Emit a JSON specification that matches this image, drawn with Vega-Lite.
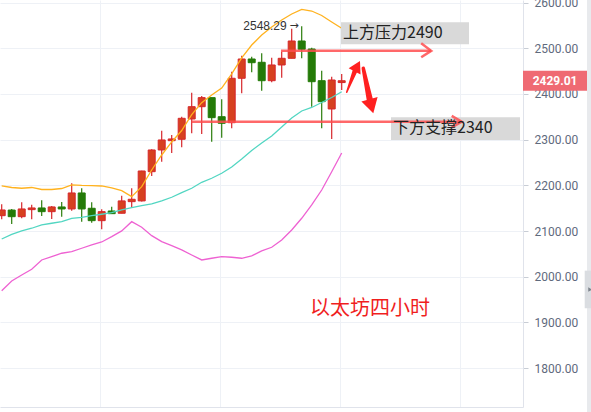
{
  "$schema": "https://vega.github.io/schema/vega-lite/v6.json",
  "width": 523,
  "height": 407,
  "autosize": {"type": "none"},
  "padding": {"left": 0, "top": 0, "right": 68, "bottom": 5},
  "background": "#ffffff",
  "config": {"view": {"stroke": null}, "font": "Roboto"},
  "datasets": {
    "candles": [
      {"i": 0, "o": 2133.7, "h": 2158.7, "l": 2125.9, "c": 2146.2},
      {"i": 1, "o": 2146.0, "h": 2148.4, "l": 2115.6, "c": 2131.5},
      {"i": 2, "o": 2131.5, "h": 2163.0, "l": 2128.0, "c": 2148.4},
      {"i": 3, "o": 2146.9, "h": 2157.8, "l": 2125.9, "c": 2150.6},
      {"i": 4, "o": 2150.6, "h": 2167.4, "l": 2133.0, "c": 2142.5},
      {"i": 5, "o": 2142.5, "h": 2155.0, "l": 2126.5, "c": 2152.8},
      {"i": 6, "o": 2152.8, "h": 2163.7, "l": 2131.5, "c": 2148.4},
      {"i": 7, "o": 2148.4, "h": 2204.6, "l": 2144.7, "c": 2183.4},
      {"i": 8, "o": 2183.4, "h": 2193.7, "l": 2120.6, "c": 2148.4},
      {"i": 9, "o": 2149.9, "h": 2163.0, "l": 2118.4, "c": 2122.8},
      {"i": 10, "o": 2122.8, "h": 2147.7, "l": 2104.0, "c": 2142.5},
      {"i": 11, "o": 2144.0, "h": 2153.4, "l": 2138.0, "c": 2138.1},
      {"i": 12, "o": 2139.0, "h": 2177.5, "l": 2139.0, "c": 2166.0},
      {"i": 13, "o": 2164.4, "h": 2193.7, "l": 2152.0, "c": 2169.6},
      {"i": 14, "o": 2166.0, "h": 2232.0, "l": 2165.0, "c": 2231.5},
      {"i": 15, "o": 2230.0, "h": 2279.0, "l": 2220.6, "c": 2277.5},
      {"i": 16, "o": 2277.5, "h": 2319.7, "l": 2251.9, "c": 2299.4},
      {"i": 17, "o": 2297.8, "h": 2310.3, "l": 2271.0, "c": 2301.6},
      {"i": 18, "o": 2300.9, "h": 2350.3, "l": 2283.4, "c": 2346.8},
      {"i": 19, "o": 2345.3, "h": 2402.9, "l": 2314.0, "c": 2372.2},
      {"i": 20, "o": 2372.2, "h": 2395.6, "l": 2312.5, "c": 2392.0},
      {"i": 21, "o": 2392.0, "h": 2392.0, "l": 2295.6, "c": 2348.2},
      {"i": 22, "o": 2350.3, "h": 2388.4, "l": 2304.4, "c": 2335.9},
      {"i": 23, "o": 2337.2, "h": 2448.8, "l": 2325.0, "c": 2434.4},
      {"i": 24, "o": 2434.4, "h": 2483.8, "l": 2401.5, "c": 2476.6},
      {"i": 25, "o": 2476.6, "h": 2481.6, "l": 2447.5, "c": 2468.5},
      {"i": 26, "o": 2469.4, "h": 2489.0, "l": 2407.2, "c": 2429.1},
      {"i": 27, "o": 2429.1, "h": 2479.4, "l": 2425.6, "c": 2463.5},
      {"i": 28, "o": 2463.5, "h": 2492.6, "l": 2435.7, "c": 2478.1},
      {"i": 29, "o": 2478.1, "h": 2543.0, "l": 2478.1, "c": 2516.0},
      {"i": 30, "o": 2516.0, "h": 2548.29, "l": 2478.1, "c": 2497.8},
      {"i": 31, "o": 2498.5, "h": 2501.3, "l": 2372.2, "c": 2426.9},
      {"i": 32, "o": 2429.1, "h": 2451.0, "l": 2325.0, "c": 2383.2},
      {"i": 33, "o": 2367.2, "h": 2437.9, "l": 2301.5, "c": 2430.6},
      {"i": 34, "o": 2425.0, "h": 2443.8, "l": 2408.8, "c": 2429.01}
    ],
    "bands": [
      {"i": 0, "upper": 2198.7, "mid": 2082.7, "lower": 1969.6},
      {"i": 1, "upper": 2195.4, "mid": 2092.6, "lower": 1990.9},
      {"i": 2, "upper": 2193.7, "mid": 2100.3, "lower": 2003.9},
      {"i": 3, "upper": 2195.4, "mid": 2106.2, "lower": 2016.5},
      {"i": 4, "upper": 2191.0, "mid": 2113.4, "lower": 2036.8},
      {"i": 5, "upper": 2191.0, "mid": 2117.1, "lower": 2044.0},
      {"i": 6, "upper": 2193.2, "mid": 2120.6, "lower": 2051.5},
      {"i": 7, "upper": 2200.9, "mid": 2128.0, "lower": 2055.0},
      {"i": 8, "upper": 2199.8, "mid": 2130.2, "lower": 2062.4},
      {"i": 9, "upper": 2199.4, "mid": 2133.7, "lower": 2069.6},
      {"i": 10, "upper": 2198.7, "mid": 2136.8, "lower": 2076.2},
      {"i": 11, "upper": 2194.3, "mid": 2140.3, "lower": 2087.8},
      {"i": 12, "upper": 2188.4, "mid": 2146.2, "lower": 2100.3},
      {"i": 13, "upper": 2175.3, "mid": 2151.2, "lower": 2120.6},
      {"i": 14, "upper": 2197.2, "mid": 2155.6, "lower": 2108.3},
      {"i": 15, "upper": 2233.7, "mid": 2159.3, "lower": 2090.0},
      {"i": 16, "upper": 2266.5, "mid": 2165.9, "lower": 2076.8},
      {"i": 17, "upper": 2295.0, "mid": 2174.0, "lower": 2068.1},
      {"i": 18, "upper": 2320.0, "mid": 2184.0, "lower": 2058.7},
      {"i": 19, "upper": 2355.0, "mid": 2193.7, "lower": 2047.7},
      {"i": 20, "upper": 2381.0, "mid": 2206.8, "lower": 2036.8},
      {"i": 21, "upper": 2397.8, "mid": 2215.6, "lower": 2040.5},
      {"i": 22, "upper": 2413.0, "mid": 2226.5, "lower": 2044.0},
      {"i": 23, "upper": 2444.0, "mid": 2240.3, "lower": 2042.7},
      {"i": 24, "upper": 2479.0, "mid": 2257.8, "lower": 2040.5},
      {"i": 25, "upper": 2507.2, "mid": 2276.4, "lower": 2045.6},
      {"i": 26, "upper": 2529.0, "mid": 2292.8, "lower": 2056.5},
      {"i": 27, "upper": 2546.6, "mid": 2308.1, "lower": 2064.6},
      {"i": 28, "upper": 2562.0, "mid": 2327.8, "lower": 2080.6},
      {"i": 29, "upper": 2575.0, "mid": 2347.5, "lower": 2102.4},
      {"i": 30, "upper": 2585.3, "mid": 2362.8, "lower": 2128.0},
      {"i": 31, "upper": 2581.6, "mid": 2370.5, "lower": 2157.1},
      {"i": 32, "upper": 2571.8, "mid": 2381.4, "lower": 2189.9},
      {"i": 33, "upper": 2557.5, "mid": 2392.4, "lower": 2229.9},
      {"i": 34, "upper": 2543.8, "mid": 2405.0, "lower": 2270.8}
    ]
  },
  "layer": [
    {
      "data": {"name": "candles"},
      "mark": {"type": "rule", "strokeWidth": 1.2},
      "encoding": {
        "x": {"field": "i", "type": "quantitative", "title": null, "scale": {"domain": [-0.17, 52.13], "nice": false, "zero": false, "padding": 0},
          "axis": {"orient": "bottom", "values": [9.83, 21.83, 33.83, 45.83], "grid": true, "gridColor": "#eef1f6", "gridWidth": 1, "labels": false, "ticks": false, "domain": true, "domainColor": "#e0e3eb", "title": null}},
        "y": {"field": "l", "type": "quantitative", "title": null, "scale": {"domain": [1715, 2605.7], "nice": false, "zero": false},
          "axis": {"orient": "right", "values": [1800, 1900, 2000, 2100, 2200, 2300, 2400, 2500, 2600], "format": ".2f", "grid": true, "gridColor": "#eef1f6", "gridWidth": 1, "domainColor": "#e0e3eb", "tickColor": "#c8cdd5", "tickSize": 5, "labelColor": "#5f6a7d", "labelFont": "Roboto", "labelFontSize": 12, "labelPadding": 6, "labelOverlap": false, "title": null}},
        "y2": {"field": "h"},
        "color": {"condition": {"test": "datum.c >= datum.o", "value": "#d6262b"}, "value": "#2b7d0a"}
      }
    },
    {
      "data": {"name": "candles"},
      "mark": {"type": "bar", "size": 7, "strokeWidth": 1},
      "encoding": {
        "x": {"field": "i", "type": "quantitative", "title": null, "scale": {"domain": [-0.17, 52.13], "padding": 0}},
        "y": {"field": "o", "type": "quantitative", "title": null, "scale": {"domain": [1715, 2605.7]}},
        "y2": {"field": "c"},
        "fill": {"condition": {"test": "datum.c >= datum.o", "value": "#d6411f"}, "value": "#247a08"},
        "stroke": {"condition": {"test": "datum.c >= datum.o", "value": "#d6262b"}, "value": "#247a08"}
      }
    },
    {
      "data": {"name": "bands"},
      "transform": [{"fold": ["upper", "mid", "lower"], "as": ["band", "v"]}],
      "mark": {"type": "line", "strokeWidth": 1.3},
      "encoding": {
        "x": {"field": "i", "type": "quantitative", "title": null, "scale": {"domain": [-0.17, 52.13], "padding": 0}},
        "y": {"field": "v", "type": "quantitative", "title": null, "scale": {"domain": [1715, 2605.7]}},
        "color": {"field": "band", "type": "nominal", "scale": {"domain": ["upper", "mid", "lower"], "range": ["#ffb21f", "#52d6c2", "#ee62d2"]}, "legend": null}
      }
    },
    {
      "data": {"values": [
        {"i1": 33.93, "i2": 46.73, "v1": 2556.9, "v2": 2508.8},
        {"i1": 38.93, "i2": 51.83, "v1": 2349.0, "v2": 2299.4}
      ]},
      "mark": {"type": "rect", "fill": "#d9d9d9", "clip": false},
      "encoding": {
        "x": {"field": "i1", "type": "quantitative", "title": null, "scale": {"domain": [-0.17, 52.13], "padding": 0}},
        "x2": {"field": "i2"},
        "y": {"field": "v1", "type": "quantitative", "title": null, "scale": {"domain": [1715, 2605.7]}},
        "y2": {"field": "v2"}
      }
    },
    {
      "data": {"values": [
        {"g": "up", "k": 0, "i": 27.93, "v": 2494.5},
        {"g": "up", "k": 1, "i": 42.93, "v": 2494.5},
        {"g": "upA", "k": 0, "i": 41.95, "v": 2510.9},
        {"g": "upA", "k": 1, "i": 42.95, "v": 2494.5},
        {"g": "upA", "k": 2, "i": 41.95, "v": 2480.3},
        {"g": "dn", "k": 0, "i": 19.0, "v": 2339.4},
        {"g": "dn", "k": 1, "i": 46.0, "v": 2339.4},
        {"g": "dnA", "k": 0, "i": 45.0, "v": 2352.0},
        {"g": "dnA", "k": 1, "i": 46.0, "v": 2339.4},
        {"g": "dnA", "k": 2, "i": 45.0, "v": 2327.0}
      ]},
      "mark": {"type": "line", "stroke": "#ff4d4f", "strokeWidth": 2.5, "opacity": 0.85, "strokeJoin": "miter"},
      "encoding": {
        "x": {"field": "i", "type": "quantitative", "title": null, "scale": {"domain": [-0.17, 52.13], "padding": 0}},
        "y": {"field": "v", "type": "quantitative", "title": null, "scale": {"domain": [1715, 2605.7]}},
        "detail": {"field": "g"},
        "order": {"field": "k"}
      }
    },
    {
      "data": {"values": [
        {"i": 34.13, "v": 2532.8, "t": "上方压力2490"},
        {"i": 39.13, "v": 2326.5, "t": "下方支撑2340"}
      ]},
      "mark": {"type": "text", "align": "left", "baseline": "middle", "font": "Noto Sans CJK SC", "fontSize": 16, "color": "#222222"},
      "encoding": {
        "x": {"field": "i", "type": "quantitative", "title": null, "scale": {"domain": [-0.17, 52.13], "padding": 0}},
        "y": {"field": "v", "type": "quantitative", "title": null, "scale": {"domain": [1715, 2605.7]}},
        "text": {"field": "t"}
      }
    },
    {
      "data": {"values": [
        {"g": "a1", "k": 0, "i": 34.5, "v": 2403.7, "w": 1.5},
        {"g": "a1", "k": 1, "i": 35.38, "v": 2453.6, "w": 5},
        {"g": "a2", "k": 0, "i": 36.16, "v": 2456.2, "w": 3.5},
        {"g": "a2", "k": 1, "i": 36.88, "v": 2380.3, "w": 6.5}
      ]},
      "mark": {"type": "trail", "color": "#ff2020"},
      "encoding": {
        "x": {"field": "i", "type": "quantitative", "title": null, "scale": {"domain": [-0.17, 52.13], "padding": 0}},
        "y": {"field": "v", "type": "quantitative", "title": null, "scale": {"domain": [1715, 2605.7]}},
        "detail": {"field": "g"},
        "order": {"field": "k"},
        "size": {"field": "w", "type": "quantitative", "scale": null, "legend": null}
      }
    },
    {
      "data": {"values": [
        {"i": 35.56, "v": 2461.0, "a": 27.6, "s": 180},
        {"i": 36.97, "v": 2373.1, "a": 164.8, "s": 282}
      ]},
      "mark": {"type": "point", "shape": "triangle-up", "filled": true, "color": "#ff2020", "opacity": 1},
      "encoding": {
        "x": {"field": "i", "type": "quantitative", "title": null, "scale": {"domain": [-0.17, 52.13], "padding": 0}},
        "y": {"field": "v", "type": "quantitative", "title": null, "scale": {"domain": [1715, 2605.7]}},
        "angle": {"field": "a", "type": "quantitative", "scale": null},
        "size": {"field": "s", "type": "quantitative", "scale": null, "legend": null}
      }
    },
    {
      "data": {"values": [{"i": 30.83, "v": 1929.6, "t": "以太坊四小时"}]},
      "mark": {"type": "text", "align": "left", "baseline": "middle", "font": "Noto Sans CJK SC", "fontSize": 20, "color": "#f01e1e"},
      "encoding": {
        "x": {"field": "i", "type": "quantitative", "title": null, "scale": {"domain": [-0.17, 52.13], "padding": 0}},
        "y": {"field": "v", "type": "quantitative", "title": null, "scale": {"domain": [1715, 2605.7]}},
        "text": {"field": "t"}
      }
    },
    {
      "data": {"values": [{"i": 28.5, "v": 2548.8, "t": "2548.29"}]},
      "mark": {"type": "text", "align": "right", "baseline": "middle", "font": "Liberation Sans", "fontSize": 12, "color": "#333333"},
      "encoding": {
        "x": {"field": "i", "type": "quantitative", "title": null, "scale": {"domain": [-0.17, 52.13], "padding": 0}},
        "y": {"field": "v", "type": "quantitative", "title": null, "scale": {"domain": [1715, 2605.7]}},
        "text": {"field": "t"}
      }
    },
    {
      "data": {"values": [{"i": 29.7, "v": 2549.5, "t": "→"}]},
      "mark": {"type": "text", "align": "right", "baseline": "middle", "font": "DejaVu Sans", "fontSize": 11, "color": "#333333"},
      "encoding": {
        "x": {"field": "i", "type": "quantitative", "title": null, "scale": {"domain": [-0.17, 52.13], "padding": 0}},
        "y": {"field": "v", "type": "quantitative", "title": null, "scale": {"domain": [1715, 2605.7]}},
        "text": {"field": "t"}
      }
    },
    {
      "data": {"values": [
        {"i1": 58.53, "i2": 60.0, "v1": 1700, "v2": 2620, "f": "#e8eaed"},
        {"i1": 58.3, "i2": 60.0, "v1": 2013.4, "v2": 1931.1, "f": "#dadde1"},
        {"i1": 52.13, "i2": 58.53, "v1": 2451.0, "v2": 2407.0, "f": "#ef6a73"}
      ]},
      "mark": {"type": "rect", "clip": false},
      "encoding": {
        "x": {"field": "i1", "type": "quantitative", "title": null, "scale": {"domain": [-0.17, 52.13], "padding": 0}},
        "x2": {"field": "i2"},
        "y": {"field": "v1", "type": "quantitative", "title": null, "scale": {"domain": [1715, 2605.7]}},
        "y2": {"field": "v2"},
        "fill": {"field": "f", "type": "nominal", "scale": null}
      }
    },
    {
      "data": {"values": [{"i": 58.85, "v": 1972}]},
      "mark": {"type": "point", "shape": "triangle-right", "filled": true, "size": 20, "color": "#7d848c", "opacity": 1, "clip": false},
      "encoding": {
        "x": {"field": "i", "type": "quantitative", "title": null, "scale": {"domain": [-0.17, 52.13], "padding": 0}},
        "y": {"field": "v", "type": "quantitative", "title": null, "scale": {"domain": [1715, 2605.7]}}
      }
    },
    {
      "data": {"values": [{"i": 53.1, "v": 2429.01, "t": "2429.01"}]},
      "mark": {"type": "text", "align": "left", "baseline": "middle", "font": "Roboto", "fontSize": 12, "fontWeight": "bold", "color": "#ffffff", "clip": false},
      "encoding": {
        "x": {"field": "i", "type": "quantitative", "title": null, "scale": {"domain": [-0.17, 52.13], "padding": 0}},
        "y": {"field": "v", "type": "quantitative", "title": null, "scale": {"domain": [1715, 2605.7]}},
        "text": {"field": "t"}
      }
    }
  ]
}
